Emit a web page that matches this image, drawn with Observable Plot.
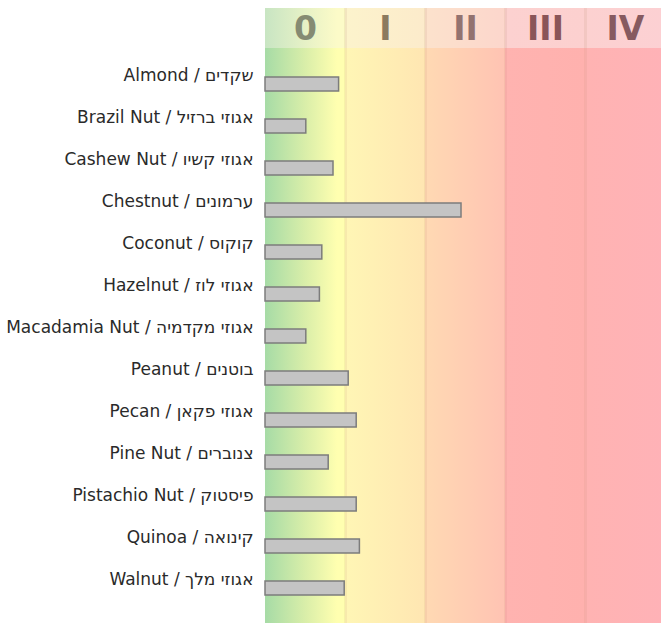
<!DOCTYPE html>
<html>
<head>
<meta charset="utf-8">
<script src="https://cdn.jsdelivr.net/npm/d3@7"></script>
<script src="https://cdn.jsdelivr.net/npm/@observablehq/plot@0.6"></script>
<style>
  html, body { margin: 0; padding: 0; background: #fff; }
  body { padding-top: 8px; width: 661px; font-family: "DejaVu Sans", sans-serif; }
  svg { display: block; }
</style>
</head>
<body>
<div id="chart"></div>
<script>
// ---- data ----
const foods = [
  "Almond / שקדים",
  "Brazil Nut / אגוזי ברזיל",
  "Cashew Nut / אגוזי קשיו",
  "Chestnut / ערמונים",
  "Coconut / קוקוס",
  "Hazelnut / אגוזי לוז",
  "Macadamia Nut / אגוזי מקדמיה",
  "Peanut / בוטנים",
  "Pecan / אגוזי פקאן",
  "Pine Nut / צנוברים",
  "Pistachio Nut / פיסטוק",
  "Quinoa / קינואה",
  "Walnut / אגוזי מלך"
];
const levels = [0.92, 0.51, 0.85, 2.45, 0.71, 0.68, 0.51, 1.04, 1.14, 0.79, 1.14, 1.18, 0.99];
const classLabels = ["0", "I", "II", "III", "IV"];
const classStart = [0, 1, 2, 3, 4];

const rows = foods.map((f, i) => ({food: f, level: levels[i]}));
const cols = classStart.map((s, i) => ({start: s, label: classLabels[i], i}));

// ---- styles ----
const mainStops = [["#a6dba6", "#d9eea9", "#ffffb0"], ["#fff6b5", "#ffe6b2"], ["#ffd9b3", "#ffc3b3"], ["#ffb3b0", "#ffb1ae"], ["#ffb3b2", "#ffb2b7"]];
const headStops = [["#c8e5c3", "#e6f1c6", "#fcfbc8"], ["#fcf3cc", "#fcebcb"], ["#fce2cc", "#fcd6cc"], ["#fcd1d0", "#fcd0cf"], ["#fcd1d0", "#fcd0d3"]];
const headText = ["#858b73", "#8b7a5e", "#937370", "#8a5558", "#865a60"];
const xDomain = [0, 4.95];
const W = 661, ML = 265;

function addGradients(svg, prefix, stops) {
  const defs = d3.select(svg).insert("defs", ":first-child");
  stops.forEach((s, i) => {
    const g = defs.append("linearGradient").attr("id", prefix + i)
      .attr("x1", 0).attr("x2", 1).attr("y1", 0).attr("y2", 0);
    s.forEach((c, k) => {
      const off = s.length === 3 ? [0, 0.5, 0.9][k] : k / (s.length - 1);
      g.append("stop").attr("offset", off).attr("stop-color", c);
    });
  });
}

// ---- header ----
const header = Plot.plot({
  width: W, height: 40,
  marginLeft: ML, marginRight: 0, marginTop: 0, marginBottom: 0,
  x: {domain: xDomain, axis: null},
  style: {fontFamily: "DejaVu Sans, sans-serif", background: "transparent"},
  marks: [
    Plot.rect(cols, {x1: "start", x2: d => d.start + 1, fill: d => `url(#head${d.i})`}),
    Plot.ruleX(classStart.slice(1), {stroke: "#b08060", strokeOpacity: 0.12, strokeWidth: 3}),
    Plot.text(cols, {x: d => d.start + 0.5, text: "label", fill: d => headText[d.i],
      fontSize: 33, fontWeight: "bold", dy: 1})
  ]
});
addGradients(header, "head", headStops);

// ---- main chart ----
const chart = Plot.plot({
  width: W, height: 575,
  marginLeft: ML, marginRight: 0, marginTop: 0, marginBottom: 0,
  x: {domain: xDomain, axis: null},
  y: {domain: foods, range: [10, 566], paddingInner: 0.672, paddingOuter: 0.351, axis: null},
  style: {fontFamily: "DejaVu Sans, sans-serif", background: "transparent"},
  marks: [
    Plot.rect(cols, {x1: "start", x2: d => d.start + 1, fill: d => `url(#main${d.i})`}),
    Plot.ruleX(classStart.slice(1), {stroke: "#b08060", strokeOpacity: 0.1, strokeWidth: 3}),
    Plot.barX(rows, {x1: 0, x2: "level", y: "food", fill: "#c4c4c4", stroke: "#7c7c7c", strokeWidth: 1.5}),
    Plot.text(rows, {x: 0, y: "food", text: "food", textAnchor: "end", dx: -12, dy: -9,
      fontSize: 17, fill: "#2a2a2a"})
  ]
});
addGradients(chart, "main", mainStops);

document.getElementById("chart").append(header, chart);
</script>
</body>
</html>
